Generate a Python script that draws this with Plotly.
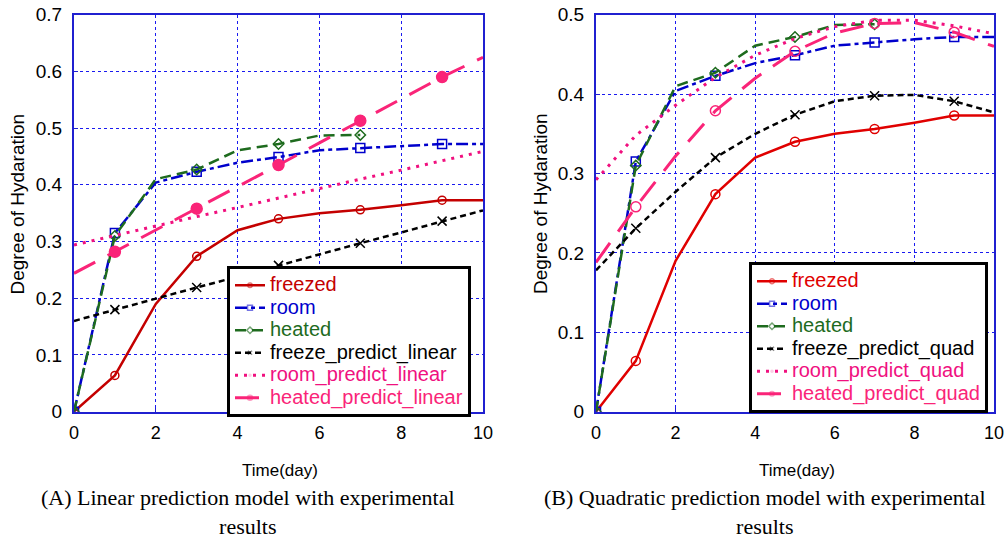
import plotly.graph_objects as go

# ---------------- data ----------------
days = [0, 1, 2, 3, 4, 5, 6, 7, 8, 9, 10]
heated_days = [0, 1, 2, 3, 4, 5, 6, 7]

freezed = [0, 0.064, 0.19, 0.274, 0.32, 0.34, 0.35, 0.356, 0.364, 0.373, 0.373]
room = [0, 0.315, 0.404, 0.423, 0.439, 0.449, 0.461, 0.465, 0.469, 0.472, 0.472]
heated = [0, 0.31, 0.41, 0.427, 0.461, 0.472, 0.487, 0.488]

freeze_predict_linear = [0.160, 0.180, 0.199, 0.219, 0.238, 0.258, 0.277, 0.297, 0.316, 0.336, 0.355]
room_predict_linear = [0.294, 0.311, 0.327, 0.344, 0.360, 0.377, 0.393, 0.410, 0.426, 0.443, 0.459]
heated_predict_linear = [0.244, 0.282, 0.320, 0.358, 0.397, 0.435, 0.474, 0.513, 0.551, 0.590, 0.625]

freeze_predict_quad = [0.178, 0.231, 0.277, 0.320, 0.350, 0.374, 0.391, 0.398, 0.399, 0.391, 0.377]
room_predict_quad = [0.292, 0.348, 0.386, 0.421, 0.449, 0.470, 0.485, 0.493, 0.493, 0.486, 0.476]
heated_predict_quad = [0.188, 0.258, 0.322, 0.379, 0.420, 0.454, 0.477, 0.489, 0.490, 0.478, 0.460]

x_ticks = [0, 2, 4, 6, 8, 10]
y_ticks_a = [0, 0.1, 0.2, 0.3, 0.4, 0.5, 0.6, 0.7]
y_ticks_b = [0, 0.1, 0.2, 0.3, 0.4, 0.5]

# days that carry a marker
exp_marked = [0, 1, 3, 5, 7, 9]
pred_marked = [1, 3, 5, 7, 9]

# ---------------- styles ----------------
FONT = "Liberation Sans, Arial, sans-serif"
SERIF = "Liberation Serif, Times New Roman, serif"
RED_A = "#C40000"
RED_B = "#E00000"
BLUE = "#0000CC"
GREEN = "#1E6B1E"
BLACK = "#000000"
PINK_DOT = "#F0107F"
PINK_DASH = "#FA2478"
AXIS_BLUE = "#2020D0"
LEGEND_TEXT_PX = 20


def msizes(xs, marked, size):
    return [size if x in marked else 0 for x in xs]


def mop(xs, marked):
    return [1 if x in marked else 0 for x in xs]


def colored(name, color):
    return f'<span style="color:{color};font-size:{LEGEND_TEXT_PX}px">{name}</span>'


def add_series(fig, xs, ys, name, color, dash, width, symbol, size, marked,
               xaxis, yaxis, legend, mline=1.5):
    fig.add_trace(go.Scatter(
        x=xs, y=ys, mode="lines+markers",
        name=colored(name, color),
        line=dict(color=color, width=width, dash=dash),
        marker=dict(symbol=symbol, size=msizes(xs, marked, size),
                    opacity=mop(xs, marked), color=color,
                    line=dict(color=color, width=mline)),
        xaxis=xaxis, yaxis=yaxis, legend=legend,
    ))


fig = go.Figure()

# ---------- panel A ----------
add_series(fig, days, freezed, "freezed", RED_A, "solid", 2.5, "circle-open", 8, exp_marked, "x", "y", "legend")
add_series(fig, days, room, "room", BLUE, "12px,4px,4px,4px", 2.5, "square-open", 9, exp_marked, "x", "y", "legend")
add_series(fig, heated_days, heated, "heated", GREEN, "11px,6px", 2.5, "diamond-open", 8, exp_marked, "x", "y", "legend")
add_series(fig, days, freeze_predict_linear, "freeze_predict_linear", BLACK, "6px,4px", 2.5, "x-thin-open", 9, pred_marked, "x", "y", "legend")
add_series(fig, days, room_predict_linear, "room_predict_linear", PINK_DOT, "3px,6px", 3, "circle", 0, [], "x", "y", "legend")
add_series(fig, days, heated_predict_linear, "heated_predict_linear", PINK_DASH, "24px,14px", 3, "circle", 11, pred_marked, "x", "y", "legend")

# ---------- panel B ----------
add_series(fig, days, freezed, "freezed", RED_B, "solid", 2.5, "circle-open", 9, exp_marked, "x2", "y2", "legend2")
add_series(fig, days, room, "room", BLUE, "12px,4px,4px,4px", 2.5, "square-open", 9, exp_marked, "x2", "y2", "legend2")
add_series(fig, heated_days, heated, "heated", GREEN, "11px,6px", 2.5, "diamond-open", 8, exp_marked, "x2", "y2", "legend2")
add_series(fig, days, freeze_predict_quad, "freeze_predict_quad", BLACK, "6px,4px", 2.5, "x-thin-open", 9, pred_marked, "x2", "y2", "legend2")
add_series(fig, days, room_predict_quad, "room_predict_quad", PINK_DOT, "3px,6px", 3, "circle", 0, [], "x2", "y2", "legend2")
add_series(fig, days, heated_predict_quad, "heated_predict_quad", PINK_DASH, "24px,14px", 3, "circle-open", 10, pred_marked, "x2", "y2", "legend2")

W, H = 1007, 541


def px_x(p):
    return p / W


def px_y(p):
    return 1 - p / H


axis_common = dict(
    showline=True, linecolor=AXIS_BLUE, linewidth=2, mirror=True,
    showgrid=True, gridcolor="#1A1AF0", gridwidth=1, griddash="dot",
    ticks="inside", ticklen=4, tickcolor=AXIS_BLUE, zeroline=False,
    automargin=False,
)
xfont = dict(family=FONT, size=18, color="black")
yfont = dict(family=FONT, size=19, color="black")

fig.update_layout(
    width=W, height=H, autosize=False,
    margin=dict(l=0, r=0, t=0, b=0, pad=0),
    paper_bgcolor="white", plot_bgcolor="white",
    font=dict(family=FONT, color="black"),
    xaxis=dict(domain=[px_x(74), px_x(483)], range=[0, 10], tickvals=x_ticks,
               anchor="y", ticklabelstandoff=4, tickfont=xfont, **axis_common),
    yaxis=dict(domain=[px_y(411.7), px_y(14.7)], range=[0, 0.7], tickvals=y_ticks_a,
               anchor="x", ticklabelstandoff=6, tickfont=yfont, **axis_common),
    xaxis2=dict(domain=[px_x(596), px_x(994)], range=[0, 10], tickvals=x_ticks,
                anchor="y2", ticklabelstandoff=4, tickfont=xfont, **axis_common),
    yaxis2=dict(domain=[px_y(411.7), px_y(14.7)], range=[0, 0.5], tickvals=y_ticks_b,
                anchor="x2", ticklabelstandoff=6, tickfont=yfont, **axis_common),
    legend=dict(x=px_x(227), y=px_y(266), xanchor="left", yanchor="top",
                bgcolor="white", bordercolor="black", borderwidth=3,
                font=dict(family=FONT, size=15), tracegroupgap=0),
    legend2=dict(x=px_x(749), y=px_y(262), xanchor="left", yanchor="top",
                 bgcolor="white", bordercolor="black", borderwidth=3,
                 font=dict(family=FONT, size=15), tracegroupgap=0),
    showlegend=True,
)

annotations = [
    dict(text="Degree of Hydaration", x=px_x(16.5), y=px_y(204), textangle=-90,
         yanchor="middle", font=dict(family=FONT, size=19)),
    dict(text="Degree of Hydaration", x=px_x(540), y=px_y(204), textangle=-90,
         yanchor="middle", font=dict(family=FONT, size=19)),
    dict(text="Time(day)", x=px_x(280), y=px_y(470), yanchor="middle",
         font=dict(family=FONT, size=17)),
    dict(text="Time(day)", x=px_x(797), y=px_y(470), yanchor="middle",
         font=dict(family=FONT, size=17)),
    dict(text="(A) Linear prediction model with experimental<br>results",
         x=px_x(248), y=px_y(541), yanchor="bottom", align="center",
         font=dict(family=SERIF, size=22)),
    dict(text="(B) Quadratic prediction model with experimental<br>results",
         x=px_x(765), y=px_y(541), yanchor="bottom", align="center",
         font=dict(family=SERIF, size=22)),
]
for a in annotations:
    a.update(xref="paper", yref="paper", showarrow=False, xanchor="center")
fig.update_layout(annotations=annotations)

fig.write_html("out.html", config={"displayModeBar": False},
               post_script="document.body.style.margin='0px';document.body.style.padding='0px';")
